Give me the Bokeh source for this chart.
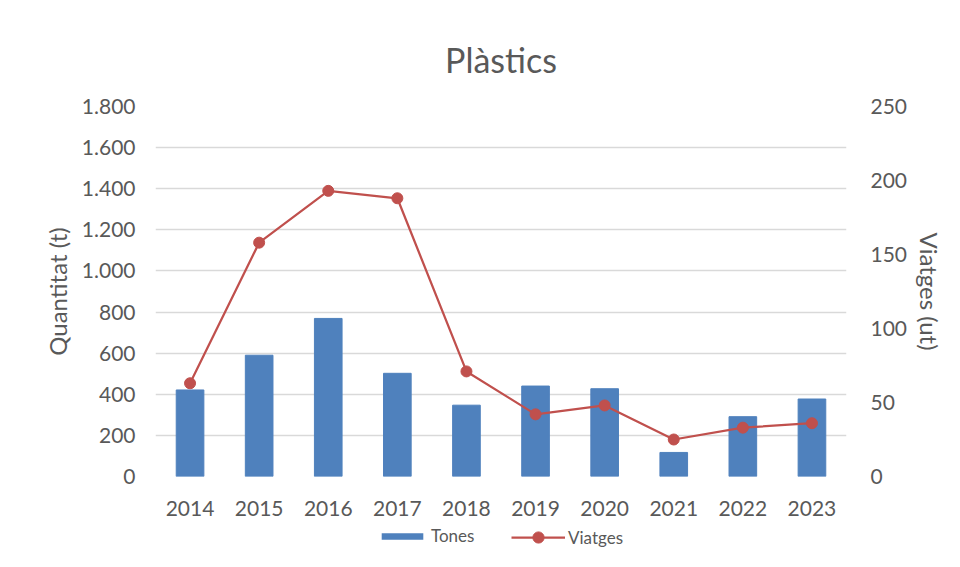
from bokeh.plotting import figure
from bokeh.layouts import column
from bokeh.models import (Range1d, LinearAxis, FactorRange, Legend, LegendItem,
                          CustomJSTickFormatter, FixedTicker)
from bokeh.embed import file_html
from bokeh.resources import INLINE

years = ["2014", "2015", "2016", "2017", "2018", "2019", "2020", "2021", "2022", "2023"]
tones = [421, 590, 769, 502, 347, 440, 427, 117, 291, 377]
viatges = [63, 158, 193, 188, 71, 42, 48, 25, 33, 36]
left_ticks = [0, 200, 400, 600, 800, 1000, 1200, 1400, 1600, 1800]
right_ticks = [0, 50, 100, 150, 200, 250]

FONT = "Lato"
TXT = "#595959"
BLUE = "#4f81bd"
RED = "#c0504d"

p = figure(x_range=FactorRange(*years), y_range=Range1d(0, 1800),
           frame_width=691, frame_height=370,
           min_border_left=155, min_border_right=100,
           min_border_top=106, min_border_bottom=50,
           output_backend="svg", toolbar_location=None)
p.extra_y_ranges = {"v": Range1d(0, 250)}

p.title.text = "Plàstics"
p.title.align = "center"
p.title.offset = -8
p.title.text_font = FONT
p.title.text_font_style = "normal"
p.title.text_font_size = "34px"
p.title.text_color = TXT
p.title.standoff = 54

p.vbar(x=years, top=tones, width=0.4, fill_color=BLUE, line_color=BLUE)
p.line(years, viatges, y_range_name="v", line_color=RED, line_width=2.25)
p.scatter(years, viatges, y_range_name="v", size=11, fill_color=RED, line_color=RED)

p.outline_line_color = None
p.xgrid.grid_line_color = None
p.ygrid.grid_line_color = "#d9d9d9"
p.ygrid.grid_line_width = 1.5

ya = p.yaxis[0]
ya.ticker = FixedTicker(ticks=left_ticks)
ya.formatter = CustomJSTickFormatter(code="return tick.toFixed(0).replace(/\\B(?=(\\d{3})+(?!\\d))/g, '.');")
ya.axis_label = "Quantitat (t)"

ra = LinearAxis(y_range_name="v", ticker=FixedTicker(ticks=right_ticks), axis_label="Viatges (ut)")
p.add_layout(ra, "right")

for ax in [p.xaxis[0], ya, ra]:
    ax.axis_line_color = None
    ax.major_tick_line_color = None
    ax.minor_tick_line_color = None
    ax.major_label_text_font = FONT
    ax.major_label_text_font_size = "21px"
    ax.major_label_text_color = TXT
    ax.axis_label_text_font = FONT
    ax.axis_label_text_font_size = "24px"
    ax.axis_label_text_font_style = "normal"
    ax.axis_label_text_color = TXT

p.xaxis[0].major_label_standoff = 18
ya.major_label_standoff = 14
ra.major_label_standoff = 18
ya.axis_label_standoff = 7
ra.axis_label_standoff = 5

# legend strip below the chart (series lie far outside its view, only the legend shows)
lg = figure(x_range=FactorRange(*years), y_range=Range1d(5000, 5001),
            frame_width=691, frame_height=40,
            min_border_left=155, min_border_right=100,
            min_border_top=0, min_border_bottom=0,
            x_axis_type=None, y_axis_type=None,
            output_backend="svg", toolbar_location=None)
lg.outline_line_color = None
lg.grid.visible = False
lb = lg.vbar(x=years, top=tones, width=0.4, fill_color=BLUE, line_color=None)
ll = lg.line(years, viatges, line_color=RED, line_width=2.25)
ls = lg.scatter(years, viatges, size=11, fill_color=RED, line_color=RED)

common = dict(orientation="horizontal", padding=0, margin=0, label_standoff=3,
              label_text_font=FONT, label_text_font_size="17px", label_text_color=TXT,
              border_line_color=None, background_fill_alpha=0)
leg1 = Legend(items=[LegendItem(label="Tones", renderers=[lb])],
              location=(221, 20), glyph_width=52, glyph_height=8, **common)
leg2 = Legend(items=[LegendItem(label="Viatges", renderers=[ll, ls])],
              location=(356, 15), glyph_width=54, glyph_height=28, **common)
lg.add_layout(leg1, "center")
lg.add_layout(leg2, "center")

layout = column(p, lg, spacing=0)
open("out.html", "w").write(file_html(layout, INLINE))
